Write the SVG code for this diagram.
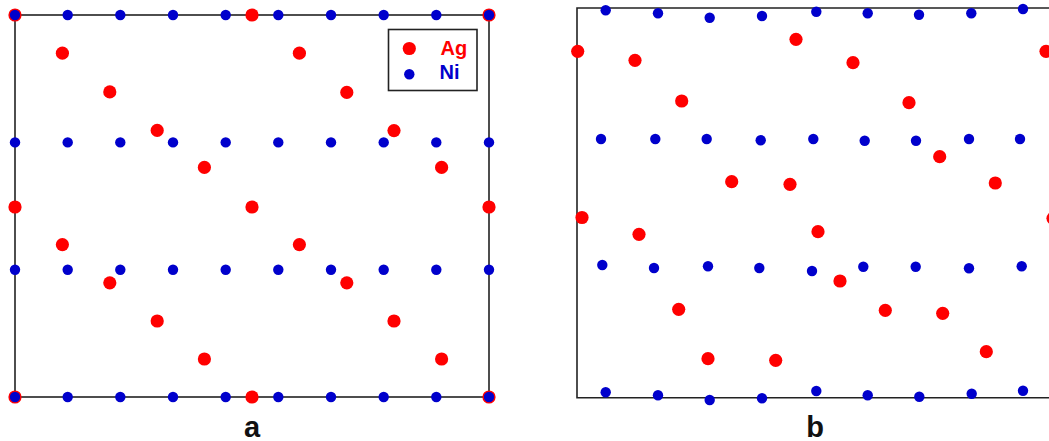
<svg xmlns="http://www.w3.org/2000/svg" width="1049" height="441" viewBox="0 0 1049 441">
<style>
.frame{fill:none;stroke:#222;stroke-width:1.6}
.ag{fill:#ff0000}
.ni{fill:#0000cc}
.lbl{font-family:"Liberation Sans",Arial,sans-serif;font-weight:bold;font-size:29px;fill:#111;text-anchor:middle}
.leg{font-family:"Liberation Sans",Arial,sans-serif;font-weight:bold;font-size:20px}
</style>
<defs>
<circle id="A" r="6.6" class="ag"/>
<circle id="N" r="5.2" class="ni"/>
</defs>
<rect x="0" y="0" width="1049" height="441" fill="#fff"/>
<g id="panel-a">
<rect class="frame" x="15" y="15" width="474" height="382"/>
<g id="a-ag">
<use href="#A" x="15" y="15"/><use href="#A" x="252" y="15"/><use href="#A" x="489" y="15"/>
<use href="#A" x="62.4" y="53.2"/><use href="#A" x="299.4" y="53.2"/>
<use href="#A" x="109.8" y="91.9"/><use href="#A" x="346.8" y="92.4"/>
<use href="#A" x="157.2" y="130.4"/><use href="#A" x="394" y="130.6"/>
<use href="#A" x="204.4" y="167.4"/><use href="#A" x="441.6" y="167.4"/>
<use href="#A" x="15" y="207"/><use href="#A" x="252" y="207"/><use href="#A" x="489" y="207"/>
<use href="#A" x="62.4" y="244.6"/><use href="#A" x="299.4" y="244.6"/>
<use href="#A" x="109.8" y="282.8"/><use href="#A" x="346.8" y="282.8"/>
<use href="#A" x="157.2" y="321"/><use href="#A" x="394" y="321"/>
<use href="#A" x="204.4" y="359"/><use href="#A" x="441.6" y="359"/>
<use href="#A" x="15" y="397"/><use href="#A" x="252" y="397"/><use href="#A" x="489" y="397"/>
</g>
<g id="a-ni">
<use href="#N" x="15" y="15"/><use href="#N" x="67.7" y="15"/><use href="#N" x="120.3" y="15"/><use href="#N" x="173" y="15"/><use href="#N" x="225.7" y="15"/><use href="#N" x="278.3" y="15"/><use href="#N" x="331" y="15"/><use href="#N" x="383.7" y="15"/><use href="#N" x="436.3" y="15"/><use href="#N" x="489" y="15"/>
<use href="#N" x="15" y="142.4"/><use href="#N" x="67.7" y="142.4"/><use href="#N" x="120.3" y="142.4"/><use href="#N" x="173" y="142.4"/><use href="#N" x="225.7" y="142.4"/><use href="#N" x="278.3" y="142.4"/><use href="#N" x="331" y="142.4"/><use href="#N" x="383.7" y="142.4"/><use href="#N" x="436.3" y="142.4"/><use href="#N" x="489" y="142.4"/>
<use href="#N" x="15" y="269.8"/><use href="#N" x="67.7" y="269.8"/><use href="#N" x="120.3" y="269.8"/><use href="#N" x="173" y="269.8"/><use href="#N" x="225.7" y="269.8"/><use href="#N" x="278.3" y="269.8"/><use href="#N" x="331" y="269.8"/><use href="#N" x="383.7" y="269.8"/><use href="#N" x="436.3" y="269.8"/><use href="#N" x="489" y="269.8"/>
<use href="#N" x="15" y="397"/><use href="#N" x="67.7" y="397"/><use href="#N" x="120.3" y="397"/><use href="#N" x="173" y="397"/><use href="#N" x="225.7" y="397"/><use href="#N" x="278.3" y="397"/><use href="#N" x="331" y="397"/><use href="#N" x="383.7" y="397"/><use href="#N" x="436.3" y="397"/><use href="#N" x="489" y="397"/>
</g>
<g id="legend">
<rect class="frame" x="388.5" y="29.5" width="88.5" height="61"/>
<use href="#A" x="409.3" y="48.5"/>
<text class="leg" x="440.5" y="54.5" fill="#ff0000">Ag</text>
<use href="#N" x="409.3" y="74.3"/>
<text class="leg" x="439.5" y="79.3" fill="#0000cc">Ni</text>
</g>
<text id="label-a" class="lbl" x="252" y="436.5">a</text>
</g>
<g id="panel-b">
<polyline class="frame" points="1060,8 577,8 577,397.7 1060,397.7"/>
<g id="b-ag">
<use href="#A" x="577.7" y="51.3"/><use href="#A" x="635" y="60.3"/><use href="#A" x="681.7" y="101"/><use href="#A" x="796" y="39.3"/><use href="#A" x="853" y="62.7"/><use href="#A" x="909" y="102.7"/><use href="#A" x="939.7" y="156.7"/><use href="#A" x="995.3" y="183"/><use href="#A" x="1046" y="51.3"/>
<use href="#A" x="731.7" y="181.7"/><use href="#A" x="790" y="184.3"/><use href="#A" x="582" y="217.5"/><use href="#A" x="639" y="234.3"/><use href="#A" x="818" y="231.7"/><use href="#A" x="1053" y="218.3"/>
<use href="#A" x="840" y="281"/><use href="#A" x="678.7" y="309.3"/><use href="#A" x="885.3" y="310.3"/><use href="#A" x="942.7" y="313.3"/><use href="#A" x="708" y="358.7"/><use href="#A" x="775.7" y="360.3"/><use href="#A" x="986.3" y="351.7"/>
</g>
<g id="b-ni">
<use href="#N" x="605.7" y="10.3"/><use href="#N" x="658" y="13.3"/><use href="#N" x="709.7" y="17.7"/><use href="#N" x="762" y="16"/><use href="#N" x="816.3" y="11.7"/><use href="#N" x="867.7" y="13.3"/><use href="#N" x="919" y="14.7"/><use href="#N" x="971.3" y="13.3"/><use href="#N" x="1023" y="9"/>
<use href="#N" x="601" y="139"/><use href="#N" x="655.3" y="139"/><use href="#N" x="706.7" y="139"/><use href="#N" x="760.7" y="140.3"/><use href="#N" x="813.3" y="139"/><use href="#N" x="864.7" y="140.7"/><use href="#N" x="916" y="140.7"/><use href="#N" x="969" y="139"/><use href="#N" x="1020" y="139"/>
<use href="#N" x="602.3" y="265"/><use href="#N" x="654" y="268"/><use href="#N" x="708" y="266.3"/><use href="#N" x="759.3" y="268"/><use href="#N" x="812" y="271"/><use href="#N" x="863.3" y="266.7"/><use href="#N" x="915.7" y="266.7"/><use href="#N" x="969" y="268.3"/><use href="#N" x="1021.7" y="266.3"/>
<use href="#N" x="605.7" y="392.3"/><use href="#N" x="658" y="395.3"/><use href="#N" x="709.7" y="400"/><use href="#N" x="762" y="398.3"/><use href="#N" x="816.3" y="391"/><use href="#N" x="867.7" y="395.3"/><use href="#N" x="919.3" y="396.7"/><use href="#N" x="971.7" y="393.7"/><use href="#N" x="1023" y="390.7"/>
</g>
<text id="label-b" class="lbl" x="815" y="436.5">b</text>
</g>
</svg>
